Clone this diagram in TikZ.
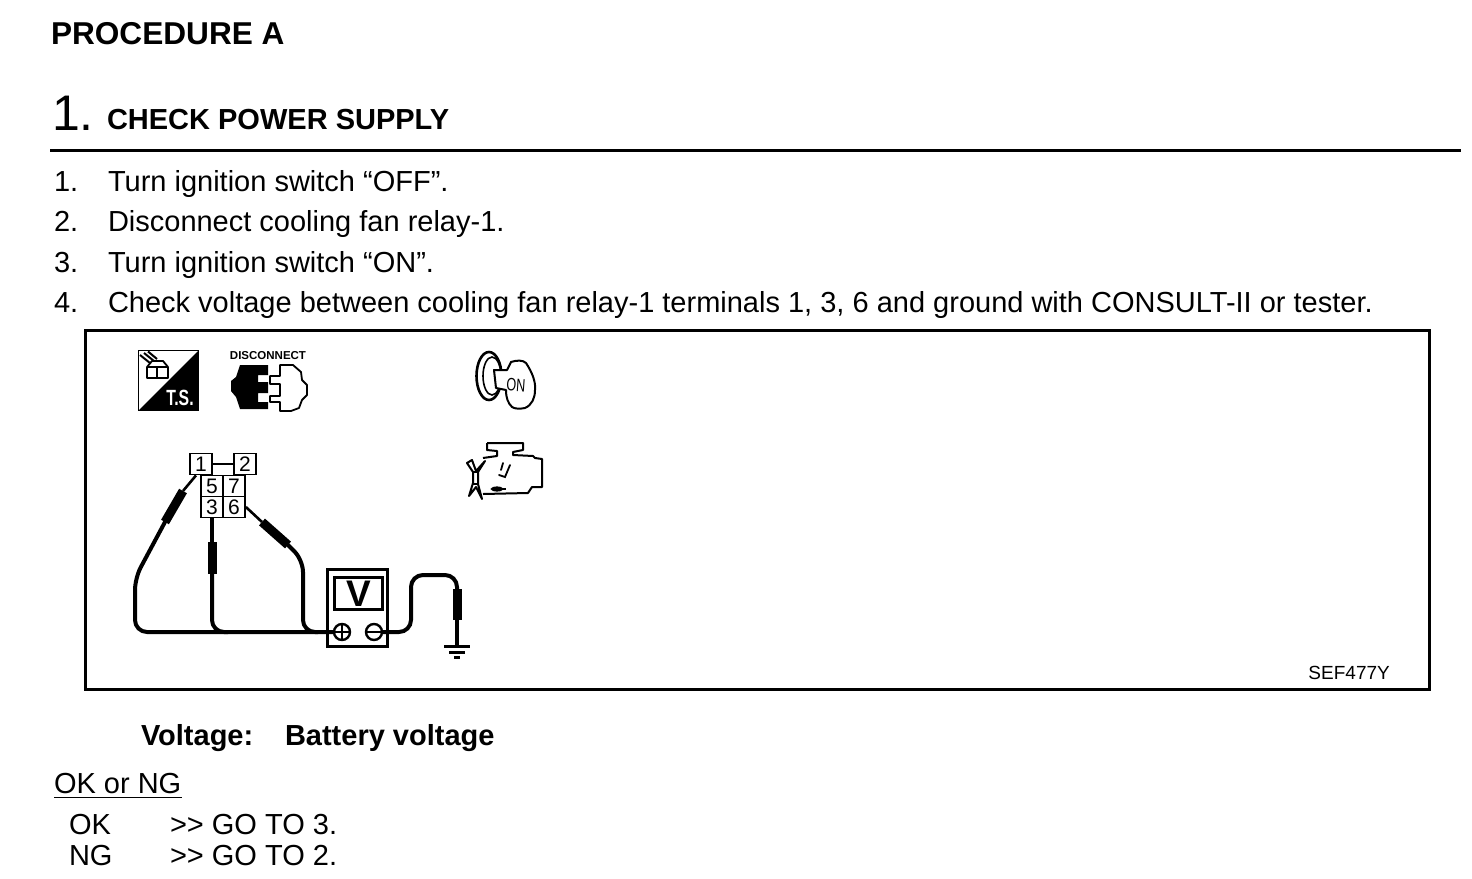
\documentclass[tikz,border=0pt]{standalone}
\usepackage{fontspec}
\setmainfont{Liberation Sans}
\newcommand{\fs}[1]{\fontsize{#1}{#1}\selectfont}
\tikzset{
 x=1pt,y=-1pt,
 txt/.style={anchor=base west,inner sep=0pt,outer sep=0pt,font=\fs{29}},
 bld/.style={anchor=base west,inner sep=0pt,outer sep=0pt,font=\fs{29}\bfseries},
 term/.style={draw=black,line width=1.8pt,minimum width=22pt,minimum height=21pt,inner sep=0pt,font=\fs{21},fill=white},
 wire/.style={line width=4pt,rounded corners=12pt,line cap=round},
 thin wire/.style={line width=2.6pt},
 probe/.style={line width=9pt},
 glyph/.style={line width=2pt,line join=round}
}
\begin{document}
\begin{tikzpicture}
\useasboundingbox (0,0) rectangle (1472,878);
\fill[white] (0,0) rectangle (1472,878);
% texts
\node[bld,font=\fs{31.6}\bfseries] (title) at (51,44) {PROCEDURE A};
\node[txt,font=\fs{50}] (num) at (52,130) {1.};
\node[bld] (head) at (107,129.5) {CHECK POWER SUPPLY};
\coordinate (ruleL) at (50,150.5); \coordinate (ruleR) at (1461,150.5);
\draw[line width=2.6pt] (ruleL) -- (ruleR);
\node[txt] (n1) at (54,191) {1.}; \node[txt] (t1) at (108,191) {Turn ignition switch “OFF”.};
\node[txt] (n2) at (54,231) {2.}; \node[txt] (t2) at (108,231) {Disconnect cooling fan relay-1.};
\node[txt] (n3) at (54,272) {3.}; \node[txt] (t3) at (108,272) {Turn ignition switch “ON”.};
\node[txt] (n4) at (54,312.5) {4.}; \node[txt] (t4) at (108,312.5) {Check voltage between cooling fan relay-1 terminals 1, 3, 6 and ground with CONSULT-II or tester.};
\node[draw=black,line width=3pt,outer sep=0pt,minimum width=1344pt,minimum height=359pt,inner sep=0pt,anchor=north west] (frame) at (85.5,330.5) {};
\node[anchor=base east,inner sep=0pt,font=\fs{19}] (code) at (1390,679) {SEF477Y};
\node[bld] (vl) at (141,745) {Voltage:};
\node[bld] (vv) at (285,745) {Battery voltage};
\node[txt] (ok) at (54,793) {OK or NG};
\draw[line width=1.8pt] (54,797.5) -- (182,797.5);
\node[txt] (a1) at (69,834) {OK}; \node[txt] (a2) at (170,834) {{>}{>} GO TO 3.};
\node[txt] (b1) at (69,865) {NG}; \node[txt] (b2) at (170,865) {{>}{>} GO TO 2.};
% T.S. icon
\draw[line width=1.8pt,fill=white] (138.5,350.5) rectangle (198.5,410.5);
\fill (198.5,350.5) -- (198.5,410.5) -- (138.5,410.5) -- cycle;
\node[anchor=base,inner sep=0pt,text=white,font=\fs{22}\bfseries] (ts) at (180,405.5) {\scalebox{.72}[1]{T.S.}};
\draw[line width=1.8pt,line join=round] (147,367) rectangle (157,378) (157,367) rectangle (168,378)
 (147,367) -- (152,361) -- (163,361) -- (168,367) ;
\draw[line width=2pt] (140,355) -- (150,363) (144,353) -- (154,361) (148,351.5) -- (157,359);
% disconnect icon
\node[inner sep=0pt,font=\fs{11.5}\bfseries] (disc) at (268,356) {DISCONNECT};
\fill (268,365) -- (240,365) -- (236,377) -- (231,381) -- (231,391) -- (236,397) -- (240,409) -- (268,409) -- (268,402) -- (258,402) -- (258,393) -- (268,393) -- (268,382) -- (258,382) -- (258,375) -- (268,375) -- cycle;
\draw[line width=1.8pt,line join=round] (270,376) -- (280,376) -- (280,365) -- (293,365) -- (301,372) -- (302,380) -- (307,385) -- (307,395) -- (302,400) -- (299,408) -- (291,411) -- (280,411) -- (280,402) -- (270,402) -- (270,396) -- (280,396) -- (280,384) -- (270,384) -- cycle;
% key icon
\draw[line width=2.6pt] (489,376) ellipse (12.5 and 24);
\draw[line width=1.6pt] (492,376) ellipse (9 and 19);
\draw[glyph,fill=white] (494,370) -- (507,370) -- (511,362) .. controls (517,360) and (523,360) .. (526,363) .. controls (532,372) and (536,382) .. (535,390) .. controls (535,398) and (532,405) .. (525,408) .. controls (520,409) and (515,409) .. (512,407) .. controls (508,403) and (506,398) .. (506,390) -- (496,388) -- cycle;
\node[inner sep=0pt,rotate=-4,font=\fs{18}] (on) at (516,385) {\scalebox{.7}[1]{ON}};
% engine icon
\draw[glyph] (487,443) -- (523,443) -- (523,450) -- (513,452) -- (513,455) -- (533,456) -- (535,458) -- (542,459) -- (542,487) -- (532,487) -- (528,493) -- (483,494);
\draw[glyph] (487,443) -- (487,450) -- (497,451) -- (497,456) -- (483,458);
\draw[line width=1.8pt,line cap=round] (499,475) -- (505,477) -- (510,465) (503,463) -- (501,470);
\draw[line width=2pt,fill=black] (497,489) ellipse (5 and 1.6);
\draw[line width=1.2pt] (502,489) -- (506,489);
\draw[glyph] (467,463) -- (472,460) -- (476,471) -- (485,461) -- (478,472) -- (478,484) -- (482,499) -- (476,487) -- (469,496) -- (473,483) -- (473,472) -- cycle;
\draw[line width=1.6pt] (473,472) -- (478,472) (473,484) -- (478,484);
% relay terminals
\node[term] (T1) at (201,464) {1};
\node[term] (T2) at (245,464) {2};
\node[term] (T5) at (212,486) {5};
\node[term] (T7) at (234,486) {7};
\node[term] (T3) at (212,507) {3};
\node[term] (T6) at (234,507) {6};
\draw[line width=2.6pt] (T1.east) -- (T2.west);
% meter
\node[draw=black,line width=2.6pt,outer sep=0pt,minimum width=60pt,minimum height=77pt,inner sep=0pt,anchor=north west] (meter) at (327.5,569.5) {};
\node[draw=black,line width=2.6pt,outer sep=0pt,minimum width=48pt,minimum height=32pt,inner sep=0pt,anchor=north west,font=\fs{37}\bfseries] (disp) at (334.5,577.5) {V};
\node[draw=black,circle,line width=2.4pt,minimum size=16pt,inner sep=0pt,fill=white] (plus) at (342,632) {};
\node[draw=black,circle,line width=2.4pt,minimum size=16pt,inner sep=0pt,fill=white] (minus) at (374,632) {};
\draw[line width=2.4pt] (plus.west) -- (plus.east) (plus.north) -- (plus.south) (minus.west) -- (minus.east);
% probes and wires
\coordinate (p1a) at (165,522); \coordinate (p1b) at (183,491);
\coordinate (p3a) at (212,542); \coordinate (p3b) at (212,574);
\coordinate (p6a) at (262,522); \coordinate (p6b) at (288,545);
\coordinate (pga) at (457,589); \coordinate (pgb) at (457,620);
\coordinate (gnd) at (457,646);
\draw[thin wire] (T1.south) ++(-5,0) coordinate (t1s) -- (p1b);
\draw[probe] (p1a) -- (p1b);
\draw[line width=3.6pt] (T3.south) -- (p3a);
\draw[probe] (p3a) -- (p3b);
\draw[thin wire] (T6.east) -- (p6a);
\draw[probe] (p6a) -- (p6b);
\draw[wire] (plus.west) -- (135,632) -- (135,578) -- (p1a);
\draw[wire] (p3b) -- (212,632) -- (228,632);
\draw[wire] (p6b) -- (303,560) -- (303,632) -- (318,632);
\draw[wire] (minus.east) -- (411,632) -- (411,575) -- (457,575) -- (pga);
\draw[probe] (pga) -- (pgb);
\draw[line width=3.4pt] (pgb) -- (gnd);
\draw[line width=3pt] (444,646.5) -- (470,646.5);
\draw[line width=2.6pt] (449,652.5) -- (465,652.5);
\draw[line width=2.4pt] (454,657.5) -- (460,657.5);
\end{tikzpicture}
\end{document}
